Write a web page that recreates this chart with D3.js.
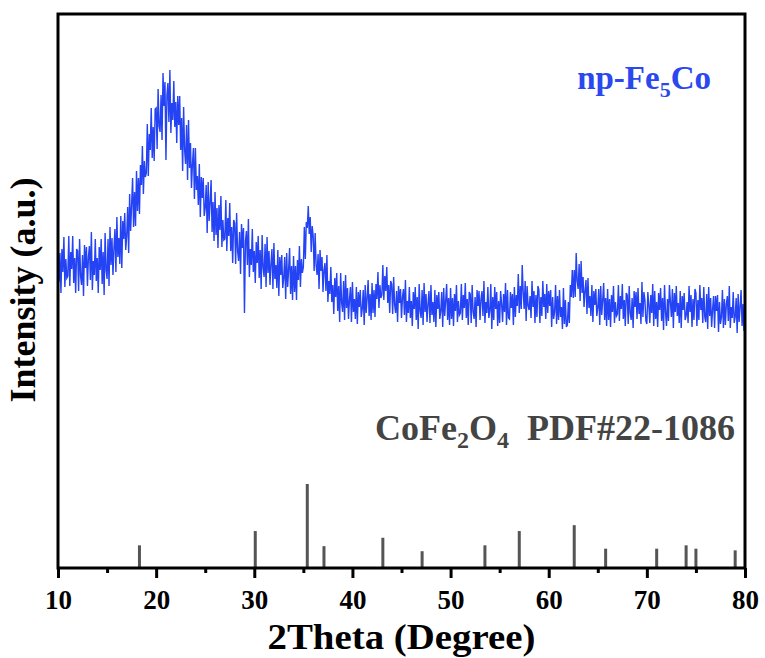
<!DOCTYPE html>
<html>
<head>
<meta charset="utf-8">
<script src="https://cdn.jsdelivr.net/npm/d3@7"></script>
<style>
  body { margin: 0; background: #fff; }
  svg { display: block; }
  text { font-family: "Liberation Serif", "Times New Roman", serif; font-weight: bold; }
</style>
</head>
<body>
<div id="chart"></div>
<script>
// measured pattern, 2theta from 10 to 80 in 0.1 degree steps (counts, arbitrary), one row per degree
const scanStart = 10;
const scanStep = 0.1;
const scanIntensity = [
  328, 286, 315, 275, 319, 296, 331, 281, 309, 290,
  292, 332, 282, 316, 299, 332, 285, 310, 275, 319,
  317, 277, 329, 292, 283, 313, 272, 323, 300, 321,
  282, 311, 322, 288, 336, 278, 307, 293, 329, 287,
  310, 275, 321, 298, 329, 284, 316, 273, 335, 298,
  289, 329, 282, 341, 303, 330, 293, 320, 339, 296,
  351, 311, 330, 304, 352, 300, 347, 329, 355, 318,
  332, 361, 315, 374, 337, 363, 390, 341, 376, 342,
  397, 357, 390, 354, 403, 383, 422, 374, 407, 391,
  395, 444, 392, 434, 418, 460, 410, 441, 407, 459,
  460, 419, 479, 442, 436, 473, 428, 495, 462, 486,
  408, 473, 485, 446, 498, 435, 465, 448, 487, 441,
  466, 425, 472, 443, 472, 418, 450, 397, 461, 418,
  404, 443, 388, 448, 400, 425, 380, 404, 420, 369,
  420, 378, 392, 363, 404, 351, 391, 370, 390, 352,
  360, 383, 335, 386, 347, 366, 388, 336, 366, 327,
  376, 333, 360, 320, 363, 338, 372, 321, 348, 328,
  329, 368, 317, 350, 332, 365, 317, 341, 305, 348,
  345, 304, 355, 317, 307, 336, 294, 344, 320, 340,
  255, 327, 337, 303, 349, 291, 319, 303, 339, 296,
  317, 285, 326, 305, 332, 290, 318, 279, 333, 300,
  291, 324, 281, 331, 295, 317, 283, 304, 319, 279,
  325, 289, 303, 280, 318, 272, 311, 293, 313, 280,
  290, 311, 269, 315, 281, 299, 320, 274, 302, 268,
  312, 276, 302, 268, 308, 288, 322, 281, 309, 295,
  301, 341, 309, 346, 340, 362, 334, 351, 316, 342,
  332, 297, 335, 303, 293, 314, 279, 318, 297, 311,
  276, 298, 305, 277, 313, 266, 287, 274, 301, 266,
  283, 254, 290, 271, 295, 257, 282, 246, 295, 265,
  256, 287, 248, 293, 260, 280, 249, 269, 281, 246,
  286, 256, 269, 249, 281, 244, 276, 261, 278, 251,
  259, 278, 243, 283, 255, 270, 288, 252, 274, 248,
  285, 255, 278, 251, 284, 269, 296, 260, 283, 270,
  273, 303, 268, 292, 277, 301, 265, 283, 255, 287,
  284, 254, 291, 263, 255, 277, 246, 282, 265, 279,
  250, 271, 279, 253, 288, 246, 267, 255, 281, 250,
  267, 242, 276, 259, 281, 248, 271, 239, 284, 257,
  250, 278, 243, 285, 256, 274, 246, 264, 277, 245,
  283, 253, 266, 246, 278, 241, 273, 259, 276, 249,
  257, 276, 241, 280, 252, 267, 284, 248, 270, 243,
  280, 249, 270, 242, 274, 257, 283, 246, 267, 253,
  255, 284, 248, 273, 260, 285, 250, 269, 243, 276,
  274, 245, 283, 256, 249, 271, 241, 278, 262, 277,
  248, 269, 277, 252, 287, 245, 266, 255, 281, 250,
  257, 284, 239, 271, 248, 281, 259, 276, 242, 267,
  245, 277, 264, 246, 274, 256, 285, 243, 278, 250,
  249, 276, 260, 274, 243, 281, 251, 273, 262, 294,
  255, 282, 259, 303, 276, 259, 287, 247, 282, 262,
  258, 272, 250, 287, 261, 277, 245, 273, 251, 282,
  278, 245, 271, 252, 287, 261, 274, 249, 284, 255,
  277, 262, 278, 241, 271, 249, 256, 283, 244, 272,
  248, 278, 251, 261, 239, 280, 244, 268, 241, 243,
  266, 245, 283, 271, 298, 270, 298, 271, 315, 287,
  279, 304, 267, 307, 275, 291, 261, 277, 288, 254,
  290, 260, 272, 252, 283, 246, 277, 263, 279, 252,
  260, 279, 243, 282, 253, 268, 285, 248, 270, 242,
  279, 248, 269, 241, 273, 256, 282, 245, 266, 252,
  254, 283, 247, 272, 259, 284, 249, 268, 242, 275,
  273, 244, 282, 255, 248, 270, 240, 277, 261, 276,
  249, 280, 254, 265, 244, 286, 251, 276, 268, 247,
  244, 276, 263, 245, 273, 255, 284, 242, 277, 249,
  266, 241, 275, 258, 280, 247, 270, 238, 283, 256,
  242, 269, 247, 283, 266, 251, 279, 240, 275, 256,
  282, 252, 265, 245, 277, 240, 272, 258, 275, 248,
  252, 266, 245, 282, 256, 273, 241, 269, 248, 279,
  275, 242, 268, 248, 283, 258, 270, 245, 281, 251,
  246, 274, 239, 281, 252, 270, 241, 259, 272, 240,
  272, 257, 273, 236, 266, 244, 251, 278, 240, 269,
  243, 264, 272, 247, 282, 240, 261, 250, 276, 245,
  251, 270, 235, 274, 246, 261, 278, 242, 264, 237,
  258
];

// CoFe2O4 reference lines (PDF#22-1086)
const refTheta = [18.3, 30.1, 35.4, 37.1, 43.1, 47.1, 53.5, 57.0, 62.6, 65.8, 71.0, 74.0, 75.0, 79.0];
const refRelInt = [27, 44, 100, 26, 36, 20, 27, 44, 51, 23, 23, 27, 23, 21];

const majorTicks = [10, 20, 30, 40, 50, 60, 70, 80];
const minorTicks = [15, 25, 35, 45, 55, 65, 75];

// layout
const W = 765, H = 658;
const plot = { left: 58, right: 745, top: 14, bottom: 568 };

const svg = d3.select("#chart").append("svg")
  .attr("width", W).attr("height", H);

const x = d3.scaleLinear().domain([10, 80]).range([plot.left, plot.right]);
const y = d3.scaleLinear().domain([0, 554]).range([plot.bottom, plot.top]);
const yRef = d3.scaleLinear().domain([0, 100]).range([plot.bottom, plot.bottom - 84]);

svg.append("clipPath").attr("id", "clip")
  .append("rect")
    .attr("x", plot.left).attr("y", plot.top)
    .attr("width", plot.right - plot.left).attr("height", plot.bottom - plot.top);

// XRD trace
const line = d3.line()
  .x((d, i) => x(scanStart + i * scanStep))
  .y(d => y(d));

svg.append("path")
  .datum(scanIntensity)
  .attr("clip-path", "url(#clip)")
  .attr("fill", "none")
  .attr("stroke", "#2443f4")
  .attr("stroke-width", 1.4)
  .attr("d", line);

// reference sticks
svg.selectAll("line.ref")
  .data(refTheta)
  .enter().append("line")
    .attr("class", "ref")
    .attr("x1", d => x(d)).attr("x2", d => x(d))
    .attr("y1", yRef(0))
    .attr("y2", (d, i) => yRef(refRelInt[i]))
    .attr("stroke", "#555")
    .attr("stroke-width", 3);

// axes
const xMajor = svg.append("g")
  .attr("transform", `translate(0,${plot.bottom})`)
  .call(d3.axisBottom(x).tickValues(majorTicks).tickSize(10).tickPadding(12));
xMajor.select(".domain").remove();
xMajor.selectAll(".tick line").attr("stroke", "#000").attr("stroke-width", 3);
xMajor.selectAll(".tick text")
  .attr("font-size", 27).attr("fill", "#000")
  .style("font-family", '"Liberation Serif", serif').style("font-weight", "bold");

const xMinor = svg.append("g")
  .attr("transform", `translate(0,${plot.bottom})`)
  .call(d3.axisBottom(x).tickValues(minorTicks).tickSize(5).tickFormat(""));
xMinor.select(".domain").remove();
xMinor.selectAll(".tick line").attr("stroke", "#000").attr("stroke-width", 3);

// frame
svg.append("rect")
  .attr("x", plot.left).attr("y", plot.top)
  .attr("width", plot.right - plot.left).attr("height", plot.bottom - plot.top)
  .attr("fill", "none").attr("stroke", "#000").attr("stroke-width", 3);

// axis titles
svg.append("text")
  .attr("x", (plot.left + plot.right) / 2)
  .attr("y", 649)
  .attr("text-anchor", "middle")
  .attr("font-size", 36)
  .attr("textLength", 268)
  .attr("lengthAdjust", "spacingAndGlyphs")
  .text("2Theta (Degree)");

svg.append("text")
  .attr("transform", "translate(35,290) rotate(-90)")
  .attr("text-anchor", "middle")
  .attr("font-size", 36)
  .text("Intensity (a.u.)");

// sample label
const lab = svg.append("text")
  .attr("x", 711).attr("y", 89)
  .attr("text-anchor", "end")
  .attr("font-size", 33)
  .attr("fill", "#2b48ee");
lab.append("tspan").text("np-Fe");
lab.append("tspan").attr("font-size", 22).attr("dy", 8).text("5");
lab.append("tspan").attr("dy", -8).text("Co");

// reference label
const ref = svg.append("text")
  .attr("x", 735).attr("y", 440)
  .attr("text-anchor", "end")
  .attr("font-size", 36)
  .attr("fill", "#444");
ref.append("tspan").text("CoFe");
ref.append("tspan").attr("font-size", 24).attr("dy", 8).text("2");
ref.append("tspan").attr("dy", -8).text("O");
ref.append("tspan").attr("font-size", 24).attr("dy", 8).text("4");
ref.append("tspan").attr("dy", -8).text("\u00a0\u00a0PDF#22-1086");
</script>
</body>
</html>
